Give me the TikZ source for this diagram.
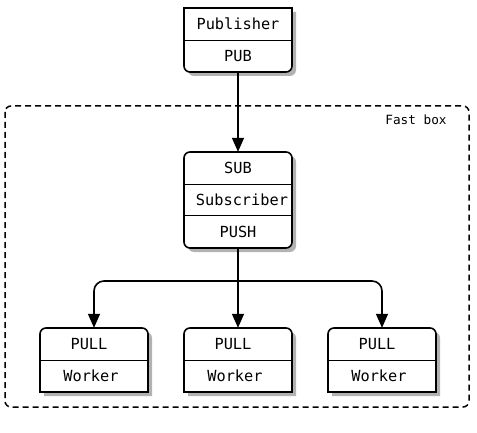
\documentclass[tikz,border=0pt]{standalone}
\usepackage{fontspec}
\setmonofont{DejaVu Sans Mono}
\usetikzlibrary{arrows.meta,shadows}
\tikzset{
  cell/.style={minimum width=108pt,minimum height=32pt,inner sep=0pt,font=\ttfamily\fontsize{15.3}{18}\selectfont},
  boxline/.style={draw,line width=1.6pt,fill=white,drop shadow={shadow xshift=4pt,shadow yshift=-4pt,fill=black,opacity=0.3}},
  divider/.style={line width=1.2pt},
  arr/.style={line width=1.6pt,-{Triangle[width=12pt,length=14pt]}},
  fast/.style={line width=1.5pt,dash pattern=on 6pt off 4pt,rounded corners=6pt}
}
\begin{document}
\begin{tikzpicture}[x=1pt,y=1pt]
\useasboundingbox (0,0) rectangle (477,432);
% fast box
\draw[fast] (5,326) rectangle (469,25);
\node[font=\ttfamily\fontsize{12.7}{15}\selectfont] (fastlabel) at (416,312) {Fast box};
% publisher box
\path[boxline] (184,424) -- (292,424) -- (292,366) arc[start angle=0,end angle=-90,radius=6pt] -- (190,360) arc[start angle=270,end angle=180,radius=6pt] -- cycle;
\node[cell] (pubname) at (238,408) {Publisher};
\node[cell] (pub) at (238,376) {PUB};
\draw[divider] (pubname.south west) -- (pubname.south east);
% subscriber box
\path[boxline,rounded corners=6pt] (184,280) rectangle (292,184);
\node[cell] (sub) at (238,264) {SUB};
\node[cell] (subname) at (238,232) {\hspace{8pt}Subscriber};
\node[cell] (push) at (238,200) {PUSH};
\draw[divider] (sub.south west) -- (sub.south east);
\draw[divider] (push.north west) -- (push.north east);
% workers
\foreach \i/\cx in {1/94,2/238,3/382}{
  \path[boxline] (\cx-54,40) -- (\cx-54,98) arc[start angle=180,end angle=90,radius=6pt] -- (\cx+48,104) arc[start angle=90,end angle=0,radius=6pt] -- (\cx+54,40) -- cycle;
  \node[cell] (pull\i) at (\cx,88) {\hspace{-10pt}PULL};
  \node[cell] (worker\i) at (\cx,56) {\hspace{-6pt}Worker};
  \draw[divider] (pull\i.south west) -- (pull\i.south east);
}
% connectors
\draw[arr] (pub.south) -- (sub.north);
\coordinate (split) at (238,151);
\draw[arr] (push.south) -- (pull2.north);
\draw[arr,rounded corners=10pt] (split) -| (pull1.north);
\draw[arr,rounded corners=10pt] (split) -| (pull3.north);
\end{tikzpicture}
\end{document}
